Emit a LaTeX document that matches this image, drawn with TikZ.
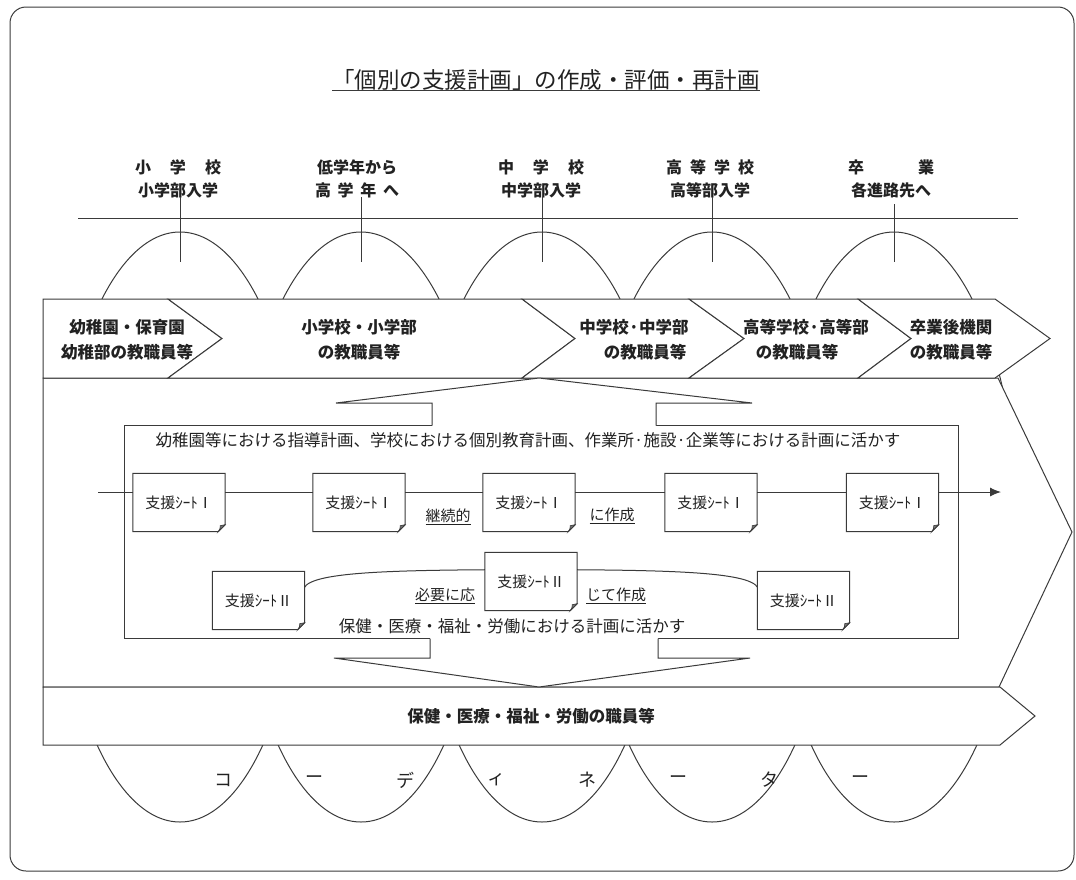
\documentclass[tikz,border=0pt]{standalone}
\usepackage{fontspec}
\newfontfamily\jp{Noto Sans CJK JP}
\usetikzlibrary{arrows.meta}
\definecolor{lc}{HTML}{3A3A3A}
\definecolor{tc}{HTML}{222222}
\newcommand\supsheet[4]{%
  \node[sheetbox] (#1) at (#2,#3) {};
  \node[sheettxt] (#1t) at (#1.center) {#4};
  \draw[ln] (#1.north west) -- (#1.north east) -- ([yshift=7pt]#1.south east)
     -- ([xshift=-7pt]#1.south east) -- (#1.south west) -- cycle;
  \filldraw[draw=lc,fill=black!55,line width=0.6pt] ([xshift=-7pt]#1.south east)
     .. controls ([xshift=-5pt,yshift=3pt]#1.south east) .. ([xshift=-5pt,yshift=6pt]#1.south east)
     -- ([yshift=7pt]#1.south east) -- cycle;
}
\begin{document}
\begin{tikzpicture}[x=1pt,y=-1pt,line join=miter]
\tikzset{
  ln/.style={draw=lc,line width=1pt},
  shapefill/.style={draw=lc,fill=white,line width=1pt},
  titletxt/.style={font=\jp\fontsize{22.5}{24}\selectfont,text=tc,inner sep=0pt},
  toplbl/.style={font=\jp\bfseries\fontsize{16}{18}\selectfont,text=tc,inner sep=0pt},
  bandtxt/.style={font=\jp\bfseries\fontsize{16.5}{18}\selectfont,text=tc,inner sep=0pt},
  bodytxt/.style={font=\jp\fontsize{16.5}{18}\selectfont,text=tc,inner sep=0pt},
  sheettxt/.style={font=\jp\fontsize{15}{17}\selectfont,text=tc,inner sep=0pt},
  ultxt/.style={font=\jp\fontsize{15}{17}\selectfont,text=tc,inner sep=0pt},
  cotxt/.style={font=\jp\fontsize{18}{20}\selectfont,text=tc,inner sep=0pt},
  sheetbox/.style={fill=white,draw=none,minimum width=92pt,minimum height=58pt,inner sep=0pt},
}
\useasboundingbox (0,0) rectangle (1076,879);
% outer frame
\draw[ln,rounded corners=16pt] (10,7) rectangle (1074,871);
% title
\node[titletxt] (title) at (546,80) {「個別の支援計画」の作成・評価・再計画};
\draw[ln] (title.west |- 0,90) -- (title.east |- 0,90);
% top labels
\node[toplbl] (l1a) at (178,167) {\makebox[86pt][s]{小 学 校}};
\node[toplbl] (l1b) at (178,190) {小学部入学};
\node[toplbl] (l2a) at (357,167) {低学年から};
\node[toplbl] (l2b) at (357,190) {\makebox[84pt][s]{高 学 年 へ}};
\node[toplbl] (l3a) at (541,167) {\makebox[86pt][s]{中 学 校}};
\node[toplbl] (l3b) at (541,190) {中学部入学};
\node[toplbl] (l4a) at (710,167) {\makebox[88pt][s]{高 等 学 校}};
\node[toplbl] (l4b) at (710,190) {高等部入学};
\node[toplbl] (l5a) at (891,167) {\makebox[86pt][s]{卒 業}};
\node[toplbl] (l5b) at (891,190) {各進路先へ};
\draw[ln] (78,218) -- (1018,218);
\foreach \cx/\ys in {180/197,361/197,542/197,712/197,894/204}{
  \draw[ln] (\cx,\ys) -- (\cx,262);
}
% ellipses behind
\foreach \cx in {180,361,542,712,894}{
  \draw[ln] (\cx,527) ellipse [x radius=123, y radius=295];
}
% middle box
\filldraw[shapefill] (43,378) -- (998,378) -- (1072,532) -- (999,687) -- (43,687) -- cycle;
% bottom band
\filldraw[shapefill] (43,687) -- (1000,687) -- (1035,716) -- (1000,745) -- (43,745) -- cycle;
\node[bandtxt] (bb) at (531,716) {保健・医療・福祉・労働の職員等};
% top band chevrons
\filldraw[shapefill] (43,299) -- (168,299) -- (222,338.5) -- (168,378) -- (43,378) -- cycle;
\filldraw[shapefill] (168,299) -- (522,299) -- (575,338.5) -- (522,378) -- (168,378) -- (222,338.5) -- cycle;
\filldraw[shapefill] (522,299) -- (689,299) -- (744,338.5) -- (689,378) -- (522,378) -- (575,338.5) -- cycle;
\filldraw[shapefill] (689,299) -- (858,299) -- (911,338.5) -- (858,378) -- (689,378) -- (744,338.5) -- cycle;
\filldraw[shapefill] (858,299) -- (995,299) -- (1050,338.5) -- (995,378) -- (858,378) -- (911,338.5) -- cycle;
\node[bandtxt] (b1a) at (127,327) {幼稚園・保育園};
\node[bandtxt] (b1b) at (127,352) {幼稚部の教職員等};
\node[bandtxt] (b2a) at (359,327) {小学校・小学部};
\node[bandtxt] (b2b) at (359,352) {の教職員等};
\node[bandtxt] (b3a) at (634,327) {中学校·中学部};
\node[bandtxt] (b3b) at (645,352) {の教職員等};
\node[bandtxt] (b4a) at (806,327) {高等学校·高等部};
\node[bandtxt] (b4b) at (797,352) {の教職員等};
\node[bandtxt] (b5a) at (951,327) {卒業後機関};
\node[bandtxt] (b5b) at (951,352) {の教職員等};
% inner box
\draw[ln] (124,425) rectangle (958,638);
% up arrow
\fill[white] (432,426) -- (432,403) -- (336,403) -- (539,378) -- (752,403) -- (656,403) -- (656,426) -- cycle;
\draw[ln] (432,425.5) -- (432,403) -- (336,403) -- (539,378) -- (752,403) -- (656,403) -- (656,425.5);
% down arrow
\fill[white] (430,637) -- (430,658) -- (334,658) -- (539,687) -- (750,658) -- (658,658) -- (658,637) -- cycle;
\draw[ln] (430,638.5) -- (430,658) -- (334,658) -- (539,687) -- (750,658) -- (658,658) -- (658,638.5);
% texts in inner box
\node[bodytxt] (plan1) at (528,440) {幼稚園等における指導計画、学校における個別教育計画、作業所·施設·企業等における計画に活かす};
\node[bodytxt] (plan2) at (512,626) {保健・医療・福祉・労働における計画に活かす};
% main time line
\coordinate (lstart) at (98,492);
\coordinate (lend) at (1001,492);
\draw[ln,-{Latex[length=11pt,width=9pt]}] (lstart) -- (lend);
\supsheet{s1}{179}{502.5}{支援ｼｰﾄⅠ}
\supsheet{s2}{359}{502.5}{支援ｼｰﾄⅠ}
\supsheet{s3}{529}{502.5}{支援ｼｰﾄⅠ}
\supsheet{s4}{711}{502.5}{支援ｼｰﾄⅠ}
\supsheet{s5}{892.5}{502.5}{支援ｼｰﾄⅠ}
\node[ultxt] (k1) at (448,517) {\underline{継続的}};
\node[ultxt] (k2) at (612,516) {\underline{に作成}};
% sheet II curve
\coordinate (cA) at (304,588);
\coordinate (cB) at (758,588);
\draw[ln] (cA) .. controls (312,571) and (400,570) .. (531,569.5) .. controls (662,570) and (750,571) .. (cB);
\supsheet{t1}{258.5}{600.5}{支援ｼｰﾄⅡ}
\supsheet{t2}{531}{581.5}{支援ｼｰﾄⅡ}
\supsheet{t3}{803.5}{600.5}{支援ｼｰﾄⅡ}
\node[ultxt] (n1) at (445,596) {\underline{必要に応}};
\node[ultxt] (n2) at (616,596) {\underline{じて作成}};
% coordinator
\foreach \ch [count=\i from 0] in {コ,ー,デ,ィ,ネ,ー,タ,ー}{
  \node[cotxt] (co\i) at ({223+\i*91},780) {\ch};
}
\end{tikzpicture}
\end{document}
